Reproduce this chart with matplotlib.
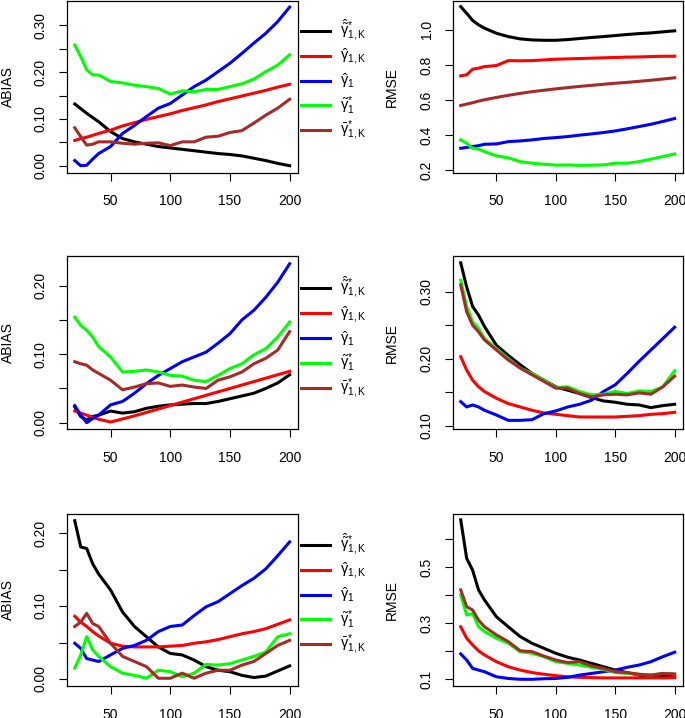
import matplotlib
matplotlib.use("Agg")
import matplotlib.pyplot as plt

plt.rcParams["font.family"] = ["Liberation Sans", "DejaVu Sans"]
plt.rcParams["mathtext.fontset"] = "custom"
plt.rcParams["mathtext.rm"] = "Liberation Sans"
plt.rcParams["mathtext.it"] = "Liberation Sans"
plt.rcParams["mathtext.bf"] = "Liberation Sans:bold"

# --- data ---
n_vals = [20, 25, 30, 35, 40, 50, 60, 70, 80, 90, 100, 110, 120, 130, 140, 150, 160, 170, 180, 190, 200]

# row 1
abias1_black = [0.132, 0.122, 0.112, 0.103, 0.094, 0.073, 0.058, 0.051, 0.046, 0.041, 0.038, 0.035, 0.032, 0.029, 0.026, 0.024, 0.021, 0.016, 0.011, 0.005, 0.000]
abias1_red = [0.054, 0.058, 0.061, 0.065, 0.069, 0.076, 0.085, 0.092, 0.099, 0.105, 0.111, 0.118, 0.124, 0.130, 0.137, 0.143, 0.149, 0.155, 0.161, 0.168, 0.174]
abias1_blue = [0.011, 0.000, 0.001, 0.014, 0.026, 0.041, 0.069, 0.086, 0.105, 0.123, 0.133, 0.151, 0.169, 0.183, 0.201, 0.219, 0.240, 0.262, 0.283, 0.308, 0.339]
abias1_green = [0.258, 0.233, 0.205, 0.194, 0.194, 0.180, 0.177, 0.172, 0.169, 0.165, 0.153, 0.160, 0.158, 0.163, 0.163, 0.169, 0.175, 0.185, 0.201, 0.215, 0.237]
abias1_brown = [0.081, 0.062, 0.044, 0.046, 0.051, 0.051, 0.048, 0.046, 0.048, 0.049, 0.043, 0.051, 0.051, 0.061, 0.063, 0.071, 0.075, 0.091, 0.108, 0.123, 0.142]

rmse1_black = [1.133, 1.095, 1.054, 1.029, 1.010, 0.981, 0.962, 0.949, 0.943, 0.941, 0.941, 0.945, 0.951, 0.957, 0.962, 0.968, 0.974, 0.979, 0.983, 0.989, 0.995]
rmse1_red = [0.738, 0.744, 0.776, 0.782, 0.791, 0.797, 0.825, 0.824, 0.825, 0.829, 0.833, 0.835, 0.837, 0.839, 0.841, 0.843, 0.845, 0.846, 0.848, 0.850, 0.850]
rmse1_blue = [0.325, 0.330, 0.335, 0.340, 0.348, 0.350, 0.363, 0.367, 0.373, 0.381, 0.386, 0.392, 0.400, 0.407, 0.415, 0.424, 0.436, 0.449, 0.462, 0.478, 0.495]
rmse1_green = [0.373, 0.354, 0.325, 0.320, 0.306, 0.282, 0.270, 0.249, 0.240, 0.234, 0.229, 0.230, 0.227, 0.229, 0.230, 0.240, 0.240, 0.249, 0.263, 0.278, 0.293]
rmse1_brown = [0.569, 0.577, 0.585, 0.594, 0.602, 0.615, 0.627, 0.638, 0.648, 0.656, 0.664, 0.671, 0.678, 0.684, 0.690, 0.696, 0.701, 0.707, 0.713, 0.720, 0.727]

# row 2
abias2_black = [0.023, 0.009, 0.004, 0.009, 0.011, 0.017, 0.014, 0.016, 0.021, 0.024, 0.026, 0.027, 0.028, 0.028, 0.031, 0.035, 0.039, 0.043, 0.050, 0.058, 0.070]
abias2_red = [0.017, 0.014, 0.011, 0.008, 0.005, 0.001, 0.0055, 0.010, 0.015, 0.020, 0.025, 0.030, 0.035, 0.040, 0.045, 0.050, 0.055, 0.060, 0.065, 0.070, 0.075]
abias2_blue = [0.025, 0.011, 0.000, 0.006, 0.011, 0.026, 0.031, 0.043, 0.057, 0.069, 0.079, 0.089, 0.096, 0.103, 0.116, 0.130, 0.150, 0.164, 0.183, 0.205, 0.232]
abias2_green = [0.154, 0.142, 0.135, 0.125, 0.111, 0.096, 0.074, 0.075, 0.077, 0.074, 0.069, 0.068, 0.062, 0.060, 0.069, 0.079, 0.086, 0.099, 0.108, 0.125, 0.147]
abias2_brown = [0.089, 0.086, 0.084, 0.077, 0.072, 0.062, 0.048, 0.052, 0.057, 0.058, 0.053, 0.055, 0.052, 0.050, 0.062, 0.067, 0.074, 0.086, 0.094, 0.106, 0.133]

rmse2_black = [0.343, 0.307, 0.278, 0.265, 0.248, 0.220, 0.205, 0.191, 0.178, 0.168, 0.158, 0.153, 0.148, 0.142, 0.137, 0.135, 0.132, 0.131, 0.127, 0.130, 0.132]
rmse2_red = [0.203, 0.183, 0.168, 0.158, 0.151, 0.141, 0.133, 0.128, 0.123, 0.119, 0.117, 0.115, 0.113, 0.113, 0.113, 0.113, 0.114, 0.115, 0.117, 0.118, 0.120]
rmse2_blue = [0.136, 0.128, 0.131, 0.128, 0.123, 0.116, 0.108, 0.108, 0.109, 0.118, 0.122, 0.128, 0.132, 0.138, 0.151, 0.161, 0.178, 0.196, 0.213, 0.230, 0.247]
rmse2_green = [0.317, 0.278, 0.255, 0.245, 0.230, 0.215, 0.200, 0.186, 0.178, 0.168, 0.157, 0.158, 0.151, 0.146, 0.147, 0.151, 0.148, 0.152, 0.151, 0.158, 0.182]
rmse2_brown = [0.310, 0.270, 0.250, 0.240, 0.228, 0.213, 0.198, 0.186, 0.176, 0.166, 0.156, 0.156, 0.148, 0.143, 0.146, 0.147, 0.146, 0.149, 0.147, 0.158, 0.174]

# row 3
abias3_black = [0.217, 0.181, 0.179, 0.158, 0.144, 0.122, 0.092, 0.072, 0.058, 0.044, 0.035, 0.033, 0.026, 0.017, 0.012, 0.010, 0.005, 0.002, 0.004, 0.011, 0.018]
abias3_red = [0.086, 0.078, 0.072, 0.065, 0.059, 0.049, 0.045, 0.044, 0.044, 0.044, 0.045, 0.046, 0.049, 0.051, 0.054, 0.058, 0.062, 0.065, 0.069, 0.075, 0.081]
abias3_blue = [0.049, 0.042, 0.028, 0.026, 0.024, 0.033, 0.042, 0.046, 0.053, 0.065, 0.072, 0.074, 0.087, 0.099, 0.106, 0.117, 0.128, 0.138, 0.151, 0.169, 0.188]
abias3_green = [0.015, 0.033, 0.058, 0.040, 0.031, 0.017, 0.008, 0.005, 0.001, 0.012, 0.010, 0.003, 0.008, 0.020, 0.019, 0.021, 0.026, 0.031, 0.037, 0.058, 0.062]
abias3_brown = [0.072, 0.078, 0.090, 0.076, 0.072, 0.049, 0.031, 0.024, 0.017, 0.001, 0.001, 0.008, 0.001, 0.008, 0.012, 0.012, 0.019, 0.024, 0.035, 0.046, 0.053]

rmse3_black = [0.670, 0.532, 0.490, 0.419, 0.383, 0.323, 0.287, 0.252, 0.228, 0.210, 0.192, 0.178, 0.168, 0.156, 0.144, 0.132, 0.123, 0.114, 0.108, 0.111, 0.108]
rmse3_red = [0.287, 0.246, 0.222, 0.201, 0.186, 0.162, 0.144, 0.132, 0.123, 0.117, 0.112, 0.108, 0.106, 0.105, 0.104, 0.104, 0.104, 0.104, 0.104, 0.104, 0.105]
rmse3_blue = [0.190, 0.168, 0.138, 0.132, 0.126, 0.108, 0.102, 0.099, 0.099, 0.101, 0.102, 0.106, 0.114, 0.120, 0.126, 0.132, 0.142, 0.150, 0.162, 0.180, 0.196]
rmse3_green = [0.401, 0.329, 0.335, 0.287, 0.270, 0.246, 0.228, 0.198, 0.192, 0.180, 0.162, 0.156, 0.150, 0.142, 0.135, 0.123, 0.120, 0.117, 0.114, 0.120, 0.118]
rmse3_brown = [0.419, 0.359, 0.347, 0.311, 0.287, 0.258, 0.234, 0.201, 0.198, 0.182, 0.168, 0.159, 0.162, 0.147, 0.138, 0.126, 0.123, 0.117, 0.114, 0.120, 0.118]

colors = ["black", "#FF0000", "#0000FF", "#00FF00", "#A52A2A"]
labels = [
    r"$\hat{\tilde{\gamma}}^{*}_{1,K}$",
    r"$\hat{\gamma}_{1,K}$",
    r"$\hat{\gamma}_{1}$",
    r"$\tilde{\gamma}^{*}_{1}$",
    r"$\bar{\gamma}^{*}_{1,K}$",
]

rows = [
    ([abias1_black, abias1_red, abias1_blue, abias1_green, abias1_brown],
     [rmse1_black, rmse1_red, rmse1_blue, rmse1_green, rmse1_brown]),
    ([abias2_black, abias2_red, abias2_blue, abias2_green, abias2_brown],
     [rmse2_black, rmse2_red, rmse2_blue, rmse2_green, rmse2_brown]),
    ([abias3_black, abias3_red, abias3_blue, abias3_green, abias3_brown],
     [rmse3_black, rmse3_red, rmse3_blue, rmse3_green, rmse3_brown]),
]

# y-axis settings: (limits, tick positions, tick labels)
left_axes_cfg = [
    ((-0.0145, 0.352), [0, 0.05, 0.10, 0.15, 0.20, 0.25, 0.30], ["0.00", "", "0.10", "", "0.20", "", "0.30"]),
    ((-0.0092, 0.2426), [0, 0.05, 0.10, 0.15, 0.20], ["0.00", "", "0.10", "", "0.20"]),
    ((-0.0096, 0.2269), [0, 0.05, 0.10, 0.15, 0.20], ["0.00", "", "0.10", "", "0.20"]),
]
right_axes_cfg = [
    ((0.187, 1.165), [0.2, 0.4, 0.6, 0.8, 1.0], ["0.2", "0.4", "0.6", "0.8", "1.0"]),
    ((0.0951, 0.3525), [0.10, 0.15, 0.20, 0.25, 0.30], ["0.10", "", "0.20", "", "0.30"]),
    ((0.075, 0.6927), [0.1, 0.2, 0.3, 0.4, 0.5, 0.6], ["0.1", "", "0.3", "", "0.5", ""]),
]

W, H = 685, 718
fig = plt.figure(figsize=(W / 100, H / 100), dpi=100)

row_px = [(1, 172.5), (256.5, 429), (513.5, 686)]
col_px = [(67, 298), (453, 683)]
legend_offset = [30, 32, 31.5]


def style_axis(ax, cfg, ylabel, label_x):
    ylim, yt, ytl = cfg
    ax.set_xlim(13.5, 207)
    ax.set_ylim(*ylim)
    ax.set_xticks([50, 100, 150, 200])
    ax.set_yticks(yt)
    ax.set_yticklabels(ytl)
    ax.tick_params(axis="both", direction="out", length=6, width=0.8, labelsize=10, pad=8)
    ax.tick_params(axis="x", pad=9.5)
    ax.tick_params(axis="y", rotation=90)
    for lab in ax.get_yticklabels():
        lab.set_va("center")
    for s in ax.spines.values():
        s.set_linewidth(0.9)
    ax.set_ylabel(ylabel, fontsize=10)
    ax.yaxis.set_label_coords(label_x, 0.5)


for r, (ab_series, rm_series) in enumerate(rows):
    top, bot = row_px[r]
    axes = []
    for c in range(2):
        x0, x1 = col_px[c]
        ax = fig.add_axes([x0 / W, 1 - bot / H, (x1 - x0) / W, (bot - top) / H])
        axes.append(ax)
    axL, axR = axes

    for ys, col in zip(ab_series, colors):
        axL.plot(n_vals, ys, color=col, lw=2.2)
    for ys, col in zip(rm_series, colors):
        axR.plot(n_vals, ys, color=col, lw=2.2)

    style_axis(axL, left_axes_cfg[r], "ABIAS", -0.225)
    style_axis(axR, right_axes_cfg[r], "RMSE", -0.235)

    # legend to the right of the ABIAS panel
    h = bot - top
    for i, (col, lab) in enumerate(zip(colors, labels)):
        yy = 1 - (legend_offset[r] + 24.8 * i) / h
        axL.plot([(301 - 67) / 231, (330 - 67) / 231], [yy, yy], color=col, lw=2.2,
                 transform=axL.transAxes, clip_on=False)
        axL.text((340 - 67) / 231, yy - 4.5 / h, lab, transform=axL.transAxes,
                 ha="left", va="baseline", fontsize=10.5)

fig.savefig("out.png", dpi=100)
